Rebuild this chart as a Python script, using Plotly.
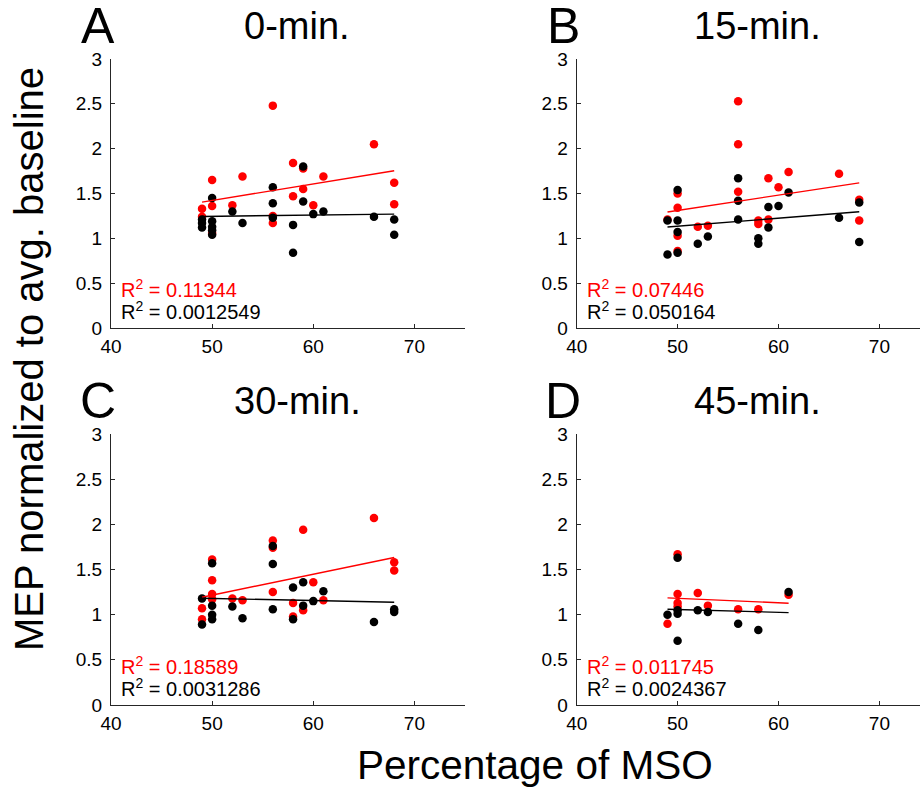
import plotly.graph_objects as go

# ---------------- data ----------------
# Panel A: 0-min.
a_red_x = [49, 49, 50, 50, 50, 52, 53, 56, 56, 56, 58, 58, 59, 59, 60, 61, 66, 68, 68]
a_red_y = [1.33, 1.24, 1.65, 1.36, 1.06, 1.37, 1.69, 2.48, 1.25, 1.17, 1.84, 1.47, 1.78, 1.55, 1.37, 1.69, 2.05, 1.62, 1.38]
a_blk_x = [49, 49, 49, 50, 50, 50, 50, 50, 52, 53, 56, 56, 56, 58, 58, 59, 59, 60, 61, 66, 68, 68]
a_blk_y = [1.21, 1.17, 1.12, 1.45, 1.19, 1.13, 1.09, 1.04, 1.30, 1.17, 1.57, 1.39, 1.23, 1.15, 0.84, 1.80, 1.41, 1.27, 1.30, 1.24, 1.21, 1.04]
a_fit_x = [49, 68]
a_red_fit = [1.404, 1.753]
a_blk_fit = [1.244, 1.270]
a_r2 = ["0.11344", "0.0012549"]

# Panel B: 15-min.
b_red_x = [49, 50, 50, 50, 50, 52, 53, 56, 56, 56, 58, 58, 59, 59, 60, 61, 66, 68, 68]
b_red_y = [1.21, 1.50, 1.34, 1.03, 0.86, 1.13, 1.14, 2.53, 2.05, 1.52, 1.20, 1.16, 1.67, 1.21, 1.57, 1.74, 1.72, 1.43, 1.20]
b_blk_x = [49, 49, 50, 50, 50, 50, 52, 53, 56, 56, 56, 58, 58, 59, 59, 60, 61, 66, 68, 68]
b_blk_y = [1.20, 0.82, 1.54, 1.20, 1.07, 0.84, 0.94, 1.02, 1.67, 1.42, 1.21, 1.00, 0.94, 1.35, 1.12, 1.36, 1.51, 1.23, 1.40, 0.96]
b_fit_x = [49, 68]
b_red_fit = [1.293, 1.619]
b_blk_fit = [1.126, 1.296]
b_r2 = ["0.07446", "0.050164"]

# Panel C: 30-min.
c_red_x = [49, 49, 50, 50, 50, 50, 52, 53, 56, 56, 56, 58, 58, 59, 59, 60, 61, 66, 68, 68]
c_red_y = [1.07, 0.95, 1.61, 1.38, 1.23, 1.17, 1.18, 1.16, 1.82, 1.74, 1.25, 1.13, 0.98, 1.94, 1.05, 1.36, 1.16, 2.07, 1.58, 1.49]
c_blk_x = [49, 49, 50, 50, 50, 50, 52, 53, 56, 56, 56, 58, 58, 59, 59, 60, 61, 66, 68, 68]
c_blk_y = [1.18, 0.89, 1.57, 1.10, 1.00, 0.95, 1.09, 0.96, 1.76, 1.56, 1.06, 1.30, 0.95, 1.36, 1.10, 1.15, 1.26, 0.92, 1.06, 1.03]
c_fit_x = [49, 68]
c_red_fit = [1.193, 1.633]
c_blk_fit = [1.182, 1.138]
c_r2 = ["0.18589", "0.0031286"]

# Panel D: 45-min.
d_red_x = [49, 50, 50, 50, 50, 52, 53, 56, 58, 61]
d_red_y = [0.90, 1.67, 1.23, 1.13, 1.09, 1.24, 1.10, 1.06, 1.06, 1.22]
d_blk_x = [49, 50, 50, 50, 50, 52, 53, 56, 58, 61]
d_blk_y = [1.00, 1.63, 1.05, 1.01, 0.71, 1.05, 1.03, 0.90, 0.83, 1.25]
d_fit_x = [49, 61]
d_red_fit = [1.186, 1.127]
d_blk_fit = [1.060, 1.023]
d_r2 = ["0.011745", "0.0024367"]

titles = ["0-min.", "15-min.", "30-min.", "45-min."]
letters = ["A", "B", "C", "D"]
y_ticks = [0, 0.5, 1, 1.5, 2, 2.5, 3]
y_tick_text = ["0", "0.5", "1", "1.5", "2", "2.5", "3"]
x_ticks = [40, 50, 60, 70]
x_tick_text = ["40", "50", "60", "70"]

# ---------------- layout geometry ----------------
W, H = 920, 788
FONT = "Liberation Sans, Arial, sans-serif"
RED = "#ff0000"
BLK = "#000000"
AX = "#262626"

# pixel boxes: (left, right, top, bottom) and x range
panels = [
    dict(box=(111, 465, 59, 328), xr=[40, 75]),
    dict(box=(576.7, 920, 59, 328), xr=[40, 40 + (920 - 576.7) / 10.09]),
    dict(box=(111, 465, 434, 705), xr=[40, 75]),
    dict(box=(576.7, 920, 434, 705), xr=[40, 40 + (920 - 576.7) / 10.09]),
]
datasets = [
    (a_red_x, a_red_y, a_blk_x, a_blk_y, a_fit_x, a_red_fit, a_blk_fit, a_r2),
    (b_red_x, b_red_y, b_blk_x, b_blk_y, b_fit_x, b_red_fit, b_blk_fit, b_r2),
    (c_red_x, c_red_y, c_blk_x, c_blk_y, c_fit_x, c_red_fit, c_blk_fit, c_r2),
    (d_red_x, d_red_y, d_blk_x, d_blk_y, d_fit_x, d_red_fit, d_blk_fit, d_r2),
]

fig = go.Figure()
annotations = []


def px_x(x):
    return x / W


def px_y(y):
    return 1 - y / H


for i, (p, ds) in enumerate(zip(panels, datasets)):
    l, r, t, b = p["box"]
    n = "" if i == 0 else str(i + 1)
    xa, ya = "x" + n, "y" + n
    rx, ry, kx, ky, fx, rfit, kfit, r2 = ds
    fig.add_trace(go.Scatter(x=rx, y=ry, mode="markers", xaxis=xa, yaxis=ya,
                             marker=dict(color=RED, size=8.5, line=dict(width=0)),
                             showlegend=False, hoverinfo="skip"))
    fig.add_trace(go.Scatter(x=kx, y=ky, mode="markers", xaxis=xa, yaxis=ya,
                             marker=dict(color=BLK, size=8.5, line=dict(width=0)),
                             showlegend=False, hoverinfo="skip"))
    fig.add_trace(go.Scatter(x=fx, y=rfit, mode="lines", xaxis=xa, yaxis=ya,
                             line=dict(color=RED, width=1.4),
                             showlegend=False, hoverinfo="skip"))
    fig.add_trace(go.Scatter(x=fx, y=kfit, mode="lines", xaxis=xa, yaxis=ya,
                             line=dict(color=BLK, width=1.4),
                             showlegend=False, hoverinfo="skip"))

    common = dict(showgrid=False, zeroline=False, showline=True, linecolor=AX,
                  linewidth=1, ticks="inside", ticklen=4, tickcolor=AX, automargin=False,
                  tickfont=dict(family=FONT, size=19, color="black"), mirror=False)
    fig.layout["xaxis" + n] = dict(
        domain=[px_x(l), min(px_x(r), 1.0)], range=p["xr"], anchor=ya,
        tickvals=x_ticks, ticktext=x_tick_text, ticklabelstandoff=1, **common)
    fig.layout["yaxis" + n] = dict(
        domain=[px_y(b), px_y(t)], range=[0, 3], anchor=xa,
        tickvals=y_ticks, ticktext=y_tick_text, ticklabelstandoff=4, **common)

    # title and panel letter
    cx = 297 if i % 2 == 0 else 757
    lx = 98 if i % 2 == 0 else 563
    ty = 26 if i < 2 else 401
    annotations.append(dict(x=px_x(cx), y=px_y(ty), xref="paper", yref="paper",
                            text=titles[i], showarrow=False, xanchor="center", yanchor="middle",
                            font=dict(family=FONT, size=38, color="black")))
    annotations.append(dict(x=px_x(lx), y=px_y(ty), xref="paper", yref="paper",
                            text=letters[i], showarrow=False, xanchor="center", yanchor="middle",
                            font=dict(family=FONT, size=50, color="black")))
    # R^2 texts
    tx = l + 8
    annotations.append(dict(x=px_x(tx), y=px_y(b - 40), xref="paper", yref="paper",
                            text="R<sup>2</sup> = " + r2[0], showarrow=False,
                            xanchor="left", yanchor="middle",
                            font=dict(family=FONT, size=20, color=RED)))
    annotations.append(dict(x=px_x(tx), y=px_y(b - 18), xref="paper", yref="paper",
                            text="R<sup>2</sup> = " + r2[1], showarrow=False,
                            xanchor="left", yanchor="middle",
                            font=dict(family=FONT, size=20, color="black")))

# shared axis titles
annotations.append(dict(x=px_x(29), y=px_y(359), xref="paper", yref="paper",
                        text="MEP normalized to avg. baseline", textangle=-90,
                        showarrow=False, xanchor="center", yanchor="middle",
                        font=dict(family=FONT, size=40, color="black")))
annotations.append(dict(x=px_x(535), y=px_y(765), xref="paper", yref="paper",
                        text="Percentage of MSO", showarrow=False,
                        xanchor="center", yanchor="middle",
                        font=dict(family=FONT, size=40.5, color="black")))

fig.update_layout(width=W, height=H,
                  margin=dict(l=0, r=0, t=0, b=0, pad=0, autoexpand=False),
                  paper_bgcolor="white", plot_bgcolor="white",
                  annotations=annotations, showlegend=False)

fig.write_html("out.html")
